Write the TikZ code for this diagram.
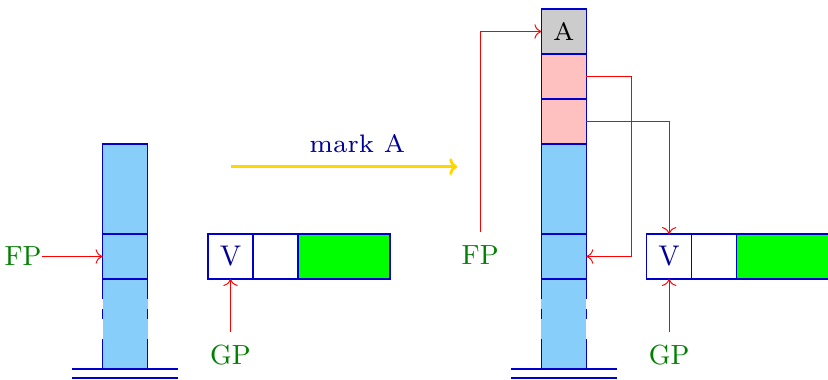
\documentclass[tikz,border=0pt]{standalone}
\usepackage{tikz}
\usetikzlibrary{positioning, arrows.meta}
\definecolor{stackblue}{RGB}{135,206,250}
\definecolor{cellline}{RGB}{0,0,204}
\definecolor{framepink}{RGB}{255,192,192}
\definecolor{heapgreen}{RGB}{0,255,0}
\definecolor{regreen}{RGB}{0,128,0}
\definecolor{darkblue}{RGB}{0,0,153}
\definecolor{markgold}{RGB}{255,215,0}
\font\regfont="[lmroman10-regular.otf]" at 17.5pt
\font\cellfont="[lmroman10-regular.otf]" at 18pt
\font\markfont="[lmroman7-regular.otf]" at 16pt
\tikzstyle{cell} = [rectangle, draw=cellline, line width=0.7pt, minimum width=1cm, minimum height=1cm, inner sep=0pt, outer sep=0pt]
\tikzstyle{dashside} = [draw=cellline, line width=0.7pt, dash pattern=on 0.444cm off 0.222cm on 0.222cm off 0.444cm on 0.667cm]
\tikzstyle{ground} = [draw=cellline, line width=0.7pt]
\tikzstyle{ptr} = [red, line width=0.6pt, -{To[scale=1.5]}]
\tikzstyle{reg} = [text=regreen, font=\regfont, inner sep=0pt]
\tikzstyle{markarrow} = [draw=markgold, line width=1.8pt, -{To[scale=0.9]}]

\begin{document}
\begin{tikzpicture}
        \useasboundingbox (0,0) rectangle (18.4,8.444);

        % stack before
        \node (l3) [cell, fill=stackblue, draw=none, minimum height=2cm] at (2.778,1.244) {};
        \node (l2) [cell, fill=stackblue, above=0pt of l3] {};
        \node (l1) [cell, fill=stackblue, minimum height=2cm, above=0pt of l2] {};
        \draw [dashside] (l3.north west) -- (l3.south west);
        \draw [dashside] (l3.north east) -- (l3.south east);
        \draw [ground] ([xshift=-0.673cm]l3.south west) -- ([xshift=0.673cm]l3.south east);
        \draw [ground] ([xshift=-0.673cm,yshift=-0.2cm]l3.south west) -- ([xshift=0.673cm,yshift=-0.2cm]l3.south east);

        % heap before
        \node (v1) [cell, text=darkblue, font=\cellfont] at (5.122,2.744) {V};
        \node (v2) [cell, right=0pt of v1] {};
        \node (v3) [cell, fill=heapgreen, minimum width=2.044cm, right=0pt of v2] {};

        \node (fpl) [reg, left=1.35cm of l2] {FP};
        \node (gpl) [reg, below=1.466cm of v1] {GP};
        \draw [ptr] (fpl) -- (l2);
        \draw [ptr, shorten <=0.29cm] (gpl) -- (v1);

        % the step
        \coordinate (ms) at (5.13,4.74);
        \coordinate (me) at (10.16,4.74);
        \draw [markarrow] (ms) -- (me);
        \node (mk) [text=darkblue, font=\markfont] at (7.94,5.25) {mark A};

        % stack after
        \node (r6) [cell, fill=stackblue, draw=none, minimum height=2cm] at (12.53,1.244) {};
        \node (r5) [cell, fill=stackblue, above=0pt of r6] {};
        \node (r4) [cell, fill=stackblue, minimum height=2cm, above=0pt of r5] {};
        \node (r3) [cell, fill=framepink, above=0pt of r4] {};
        \node (r2) [cell, fill=framepink, above=0pt of r3] {};
        \node (r1) [cell, fill=black!20, font=\markfont, above=0pt of r2] {A};
        \draw [dashside] (r6.north west) -- (r6.south west);
        \draw [dashside] (r6.north east) -- (r6.south east);
        \draw [ground] ([xshift=-0.673cm]r6.south west) -- ([xshift=0.673cm]r6.south east);
        \draw [ground] ([xshift=-0.673cm,yshift=-0.2cm]r6.south west) -- ([xshift=0.673cm,yshift=-0.2cm]r6.south east);

        % heap after
        \node (w1) [cell, text=darkblue, font=\cellfont] at (14.87,2.744) {V};
        \node (w2) [cell, right=0pt of w1] {};
        \node (w3) [cell, fill=heapgreen, minimum width=2.044cm, right=0pt of w2] {};

        \node (fpr) [reg] at (10.67,2.78) {FP};
        \node (gpr) [reg, below=1.466cm of w1] {GP};
        \draw [ptr, shorten <=0.3cm] (fpr.north) |- (r1.west);
        \draw [ptr] (r2.east) -- ++(1cm,0) |- (r5.east);
        \draw [ptr] (r3.east) -| (w1.north);
        \draw [ptr, shorten <=0.29cm] (gpr) -- (w1);
\end{tikzpicture}
\end{document}
